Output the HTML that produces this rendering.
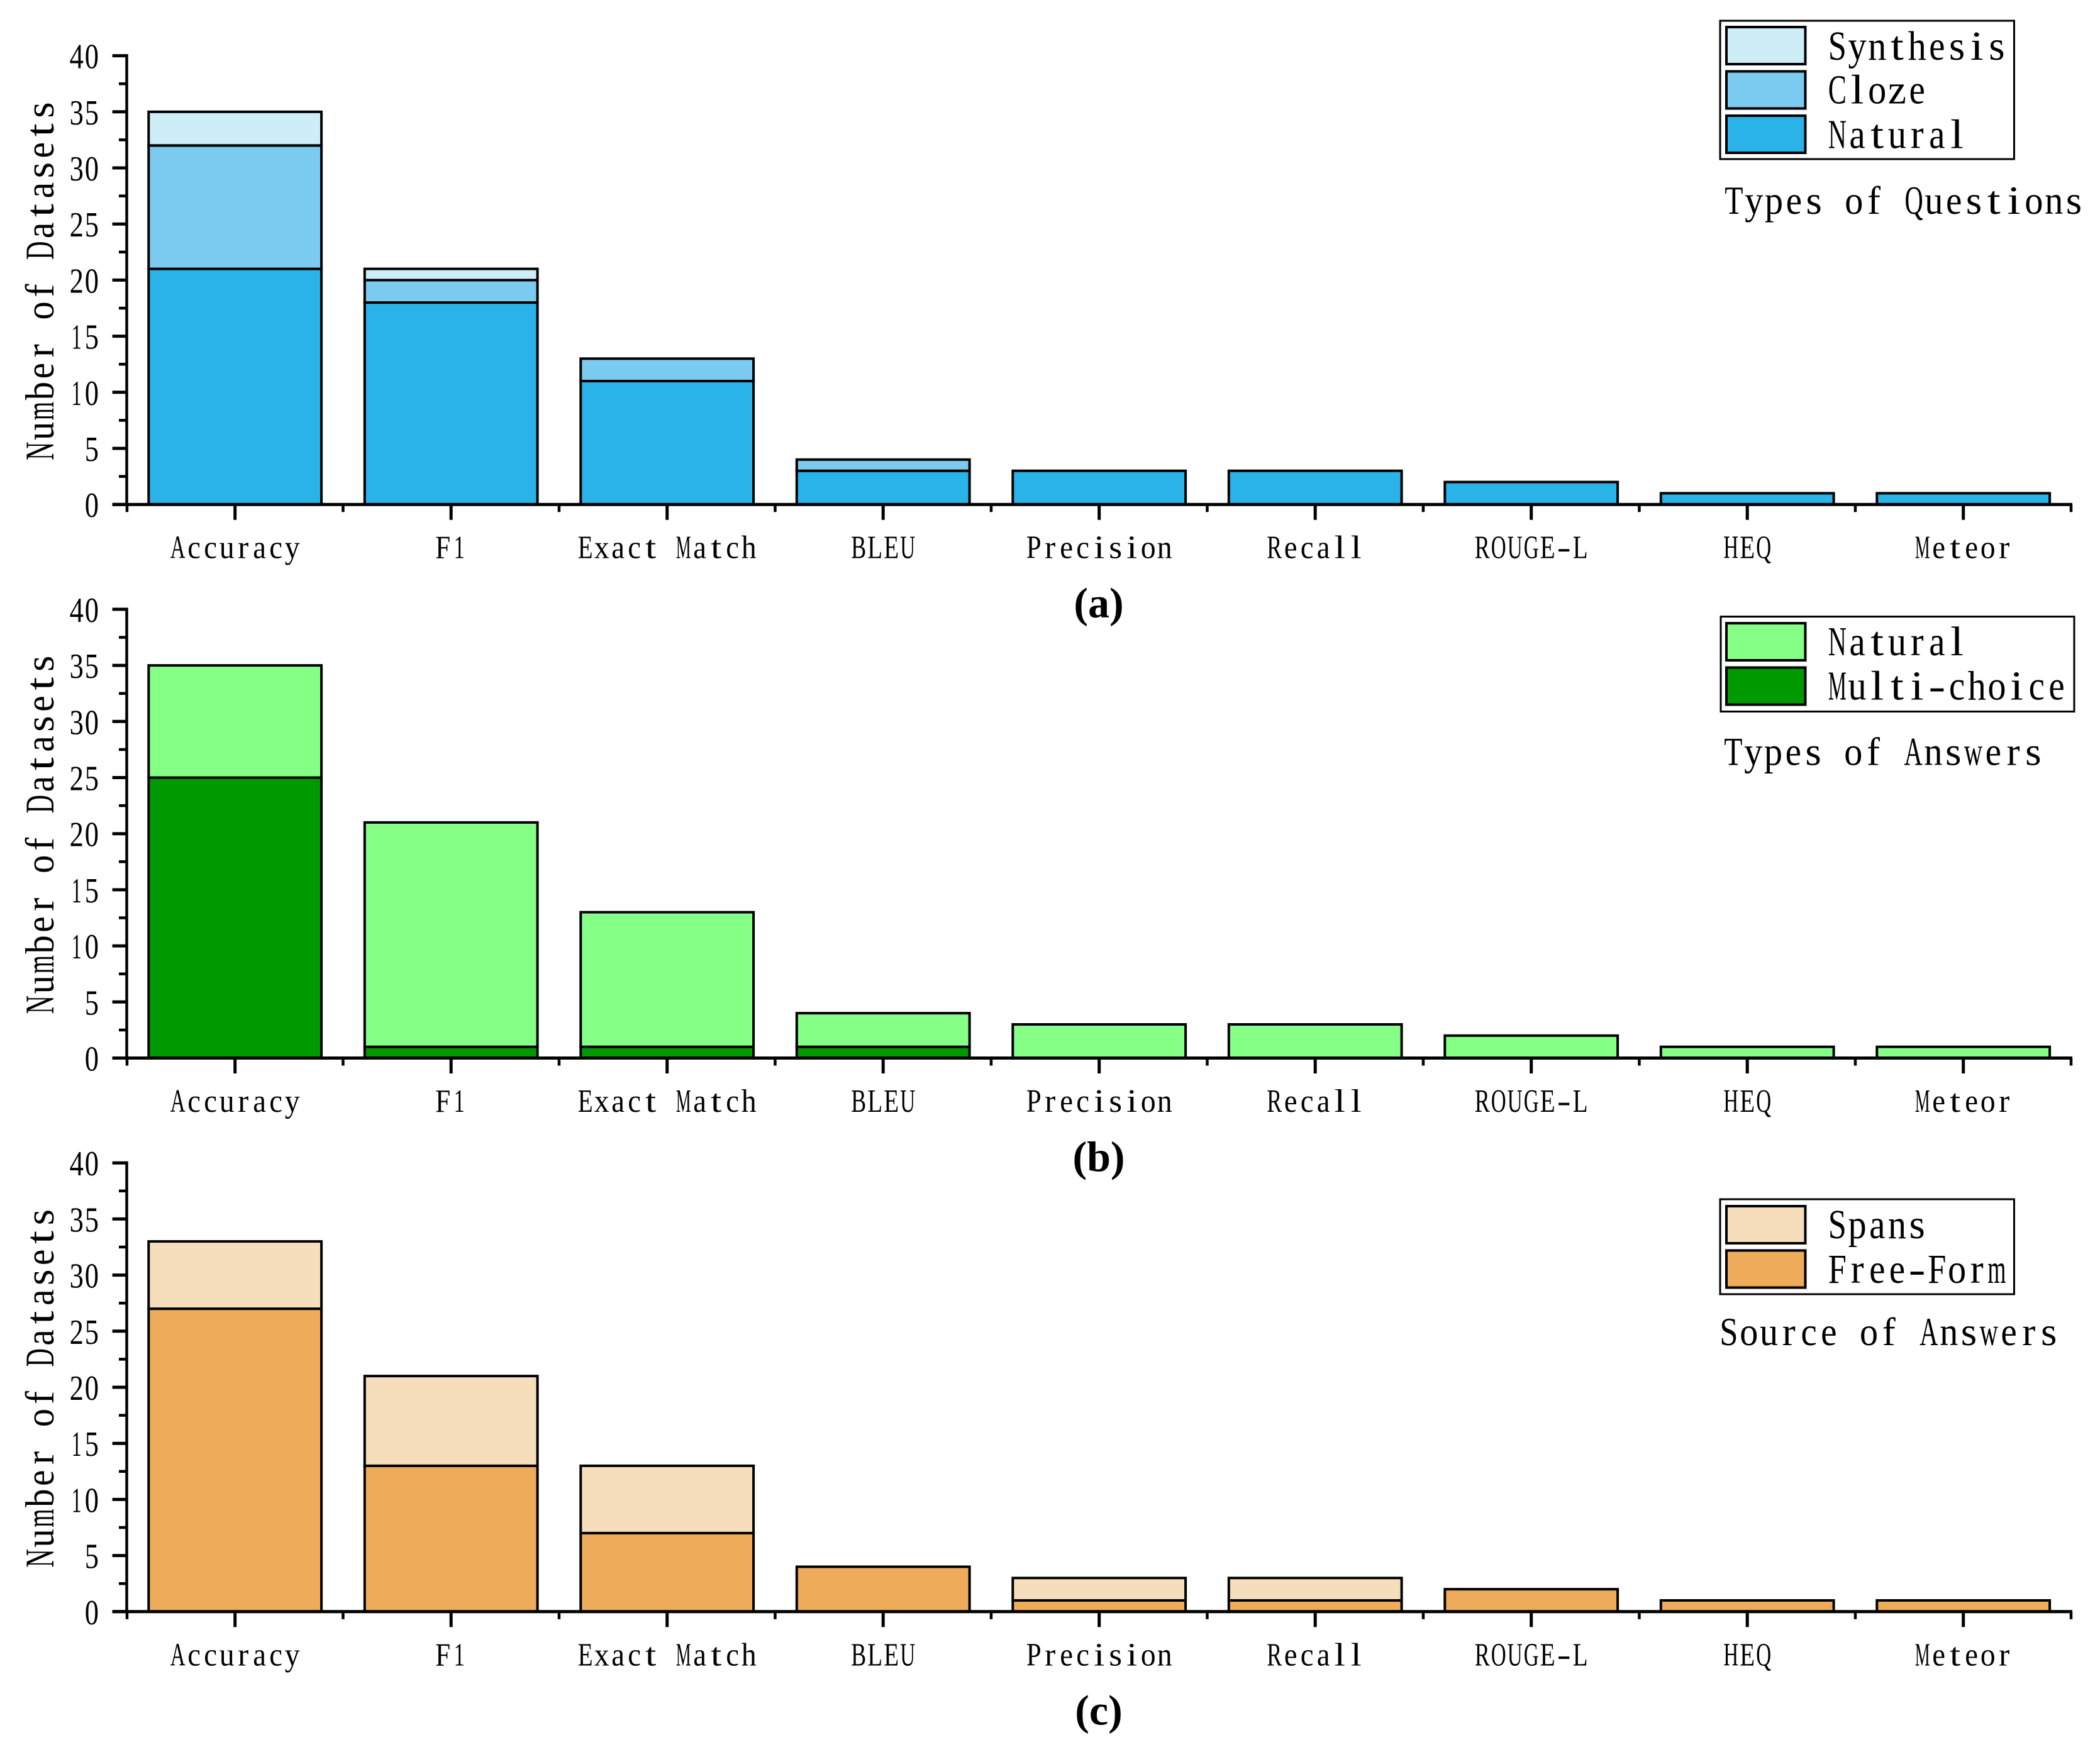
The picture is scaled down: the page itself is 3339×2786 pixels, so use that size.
<!DOCTYPE html>
<html lang="en">
<head>
<meta charset="utf-8">
<title>Number of Datasets by Metric</title>
<style>
  html, body { margin: 0; padding: 0; background: #fff; }
  svg { display: block; }
  text { font-family: "Liberation Serif", "Noto Serif CJK SC", serif; fill: #000; white-space: pre; }
</style>
</head>
<body>
<svg id="chart" xmlns="http://www.w3.org/2000/svg" width="3339" height="2786" viewBox="0 0 3339 2786"></svg>
<script>
const categories = ["Accuracy", "F1", "Exact Match", "BLEU", "Precision", "Recall", "ROUGE-L", "HEQ", "Meteor"];
const yTickLabels = [0, 5, 10, 15, 20, 25, 30, 35, 40];
const yMinorTicks = [2.5, 7.5, 12.5, 17.5, 22.5, 27.5, 32.5, 37.5];

const questionNatural = [21, 18, 11, 3, 3, 3, 2, 1, 1];
const questionCloze = [11, 2, 2, 1, 0, 0, 0, 0, 0];
const questionSynthesis = [3, 1, 0, 0, 0, 0, 0, 0, 0];

const answerMultiChoice = [25, 1, 1, 1, 0, 0, 0, 0, 0];
const answerNatural = [10, 20, 12, 3, 3, 3, 2, 1, 1];

const sourceFreeForm = [27, 13, 7, 4, 1, 1, 2, 1, 1];
const sourceSpans = [6, 8, 6, 0, 2, 2, 0, 0, 0];

const svg = document.getElementById('chart');
const NS = 'http://www.w3.org/2000/svg';

const X_FIRST = 373.7, X_STEP = 343.5, BAR_WIDTH = 274.8;
const UNIT = 17.84;
const AXIS_LEFT = 201.5, AXIS_RIGHT = 3293;

function xScale(i) { return X_FIRST + X_STEP * i; }
function yScale(v, y0) { return y0 - v * UNIT; }

function shape(tag, attrs, parent, name) {
  const el = document.createElementNS(NS, tag);
  for (const k in attrs) el.setAttribute(k, attrs[k]);
  
  
  parent.appendChild(el);
  return el;
}

function line(x1, y1, x2, y2, w, parent, name) {
  return shape('line', { x1: x1, y1: y1, x2: x2, y2: y2, stroke: '#000', 'stroke-width': w }, parent, name);
}

// Share of a half-width character cell that each glyph occupies
function glyphFill(ch) {
  if (ch === '-') return 0.85;
  if ('iljtfr1'.indexOf(ch) >= 0) return 0.66;
  if ('ceas'.indexOf(ch) >= 0) return 0.8;
  return 0.92;
}

// Text drawn on a fixed character cell, to match the half-width monospaced look of the reference
function cellText(str, x, y, cell, size, rotate, parent, name) {
  const t = 'translate(' + x + ' ' + y + ')' + (rotate ? ' rotate(' + rotate + ')' : '');
  const el = shape('text', { transform: t, y: 0, 'font-size': size, 'text-anchor': 'middle' }, parent, name);
  for (let i = 0; i < str.length; i++) {
    const span = document.createElementNS(NS, 'tspan');
    span.setAttribute('x', ((i + 0.5) * cell).toFixed(2));
    if (str[i] !== ' ') {
      span.setAttribute('textLength', (glyphFill(str[i]) * cell).toFixed(2));
      span.setAttribute('lengthAdjust', 'spacingAndGlyphs');
    }
    span.textContent = str[i];
    el.appendChild(span);
  }
  return el;
}

function drawPanel(key, y0, stacks, legendItems, legendBox, noteText, noteX, noteY, panelLabel) {
  const g = shape('g', {}, svg, key + '-panel');

  // Stacked bars
  const bars = shape('g', {}, g, key + '-bars');
  categories.forEach(function (cat, i) {
    let base = 0;
    stacks.forEach(function (s) {
      const v = s.values[i];
      if (v > 0) {
        const top = yScale(base + v, y0);
        const bottom = yScale(base, y0);
        shape('rect', {
          x: xScale(i) - BAR_WIDTH / 2, y: top, width: BAR_WIDTH, height: bottom - top,
          fill: s.color, stroke: '#000', 'stroke-width': 4
        }, bars, key + '-bar-' + s.name + '-' + cat.toLowerCase().replace(/\s+/g, '-'));
      }
      base += v;
    });
  });

  // Y axis
  const yAxis = shape('g', {}, g, key + '-y-axis');
  line(AXIS_LEFT, yScale(40, y0) - 2.5, AXIS_LEFT, y0 + 2.5, 4.5, yAxis, key + '-y-axis-line');
  yTickLabels.forEach(function (v) {
    const y = yScale(v, y0);
    line(178.6, y, AXIS_LEFT, y, 5, yAxis, key + '-y-tick-' + v);
    const s = String(v);
    cellText(s, 158 - s.length * 24.2, y + 20, 24.2, 56, 0, yAxis, key + '-y-label-' + v);
  });
  yMinorTicks.forEach(function (v) {
    const y = yScale(v, y0);
    line(189, y, AXIS_LEFT, y, 4.5, yAxis, key + '-y-minor-tick-' + v);
  });
  cellText('Number of Datasets', 85, y0 - 69, 31.9, 65, -90, yAxis, key + '-y-axis-title');

  // X axis
  const xAxis = shape('g', {}, g, key + '-x-axis');
  line(178.6, y0, AXIS_RIGHT + 2, y0, 5, xAxis, key + '-x-axis-line');
  categories.forEach(function (cat, i) {
    const slug = cat.toLowerCase().replace(/\s+/g, '-');
    const x = xScale(i);
    line(x, y0, x, y0 + 24.5, 5, xAxis, key + '-x-tick-' + slug);
    line(x - X_STEP / 2, y0, x - X_STEP / 2, y0 + 12, 4.5, xAxis, key + '-x-minor-tick-' + i);
    const w = cat.length * 26;
    cellText(cat, x - w / 2, y0 + 85.5, 26, 52, 0, xAxis, key + '-x-label-' + slug);
  });
  line(AXIS_RIGHT, y0, AXIS_RIGHT, y0 + 12, 4.5, xAxis, key + '-x-minor-tick-end');

  // Legend
  const legend = shape('g', {}, g, key + '-legend');
  shape('rect', {
    x: legendBox.x, y: legendBox.y, width: legendBox.w, height: legendBox.h,
    fill: '#fff', stroke: '#000', 'stroke-width': 3
  }, legend, key + '-legend-box');
  legendItems.forEach(function (it) {
    const entry = shape('g', {}, legend, key + '-legend-entry-' + it.name);
    shape('rect', {
      x: 2745, y: it.top, width: 125.5, height: 59,
      fill: it.color, stroke: '#000', 'stroke-width': 4
    }, entry, key + '-legend-swatch-' + it.name);
    cellText(it.label, 2905.5, it.base, 31.7, 66, 0, entry, key + '-legend-label-' + it.name);
  });
  cellText(noteText, noteX, noteY, 31.8, 64, 0, g, key + '-legend-title');

  // Panel caption
  const cap = shape('text', {
    x: 1747, y: y0 + 179.5, 'font-size': 68, 'font-weight': 'bold', 'text-anchor': 'middle'
  }, g, key + '-caption');
  cap.textContent = panelLabel;
}

const BLUE_DARK = '#29B3E9', BLUE_MID = '#7BCBF0', BLUE_LIGHT = '#CEEEF7';
const GREEN_LIGHT = '#86FF86', GREEN_DARK = '#009900';
const ORANGE_DARK = '#EEAC5B', ORANGE_LIGHT = '#F6DEBD';

drawPanel('questions', 802.2,
  [
    { name: 'natural', values: questionNatural, color: BLUE_DARK },
    { name: 'cloze', values: questionCloze, color: BLUE_MID },
    { name: 'synthesis', values: questionSynthesis, color: BLUE_LIGHT }
  ],
  [
    { name: 'synthesis', label: 'Synthesis', color: BLUE_LIGHT, top: 43, base: 95 },
    { name: 'cloze', label: 'Cloze', color: BLUE_MID, top: 113.5, base: 164.5 },
    { name: 'natural', label: 'Natural', color: BLUE_DARK, top: 184, base: 235.5 }
  ],
  { x: 2735, y: 33, w: 467.5, h: 220 },
  'Types of Questions', 2741, 340, '(a)');

drawPanel('answers', 1682.5,
  [
    { name: 'multi-choice', values: answerMultiChoice, color: GREEN_DARK },
    { name: 'natural', values: answerNatural, color: GREEN_LIGHT }
  ],
  [
    { name: 'natural', label: 'Natural', color: GREEN_LIGHT, top: 991, base: 1042 },
    { name: 'multi-choice', label: 'Multi-choice', color: GREEN_DARK, top: 1061.5, base: 1112.5 }
  ],
  { x: 2736, y: 980.5, w: 562, h: 151 },
  'Types of Answers', 2740, 1216.5, '(b)');

drawPanel('sources', 2562.8,
  [
    { name: 'free-form', values: sourceFreeForm, color: ORANGE_DARK },
    { name: 'spans', values: sourceSpans, color: ORANGE_LIGHT }
  ],
  [
    { name: 'spans', label: 'Spans', color: ORANGE_LIGHT, top: 1918, base: 1969 },
    { name: 'free-form', label: 'Free-Form', color: ORANGE_DARK, top: 1988.5, base: 2040 }
  ],
  { x: 2735, y: 1907, w: 467.5, h: 151 },
  'Source of Answers', 2733, 2139, '(c)');
</script>
</body>
</html>
